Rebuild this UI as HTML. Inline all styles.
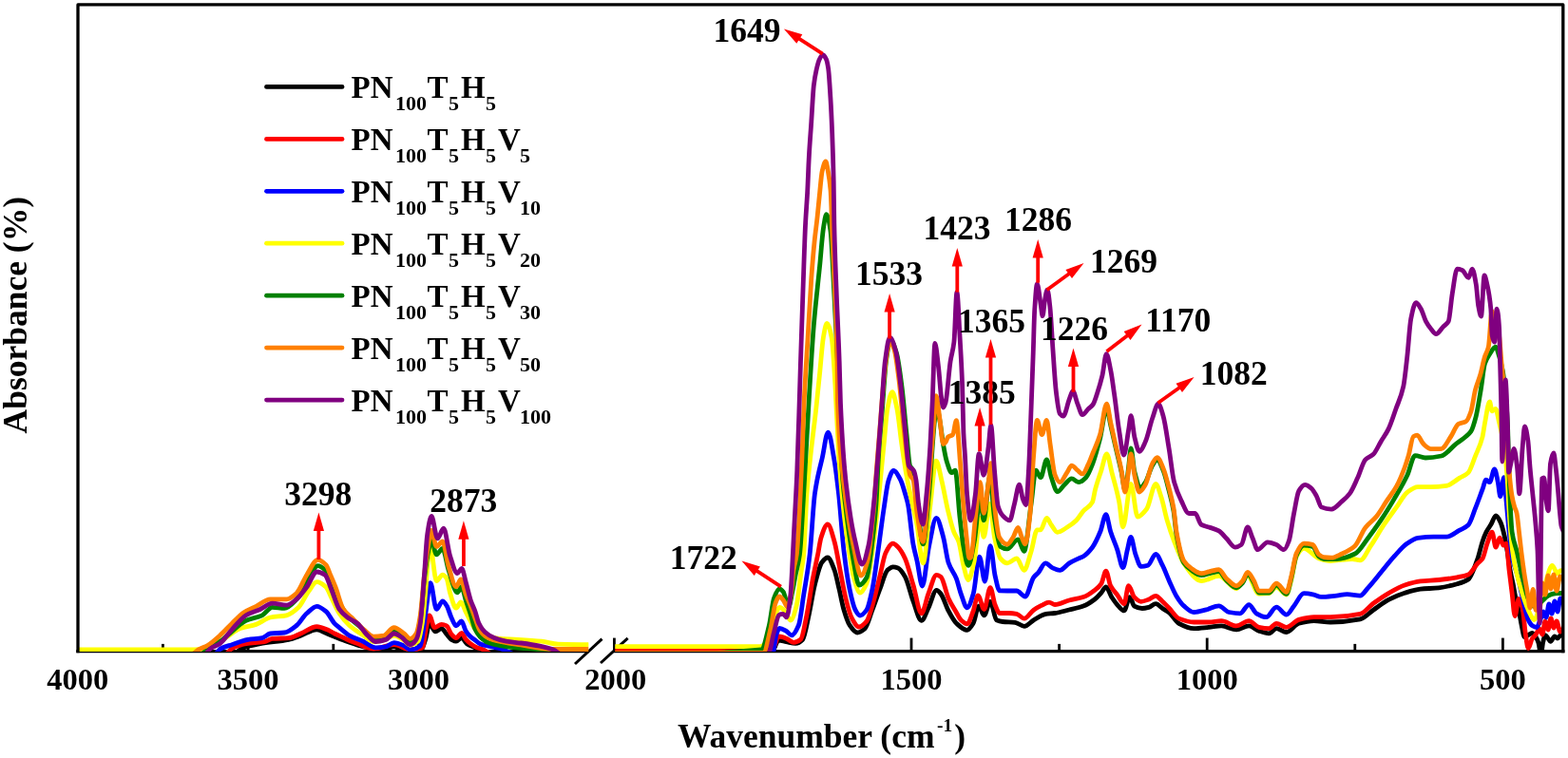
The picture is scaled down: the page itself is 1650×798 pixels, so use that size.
<!DOCTYPE html><html><head><meta charset="utf-8"><title>FTIR spectra</title><style>html,body{margin:0;padding:0;background:#fff;}svg{display:block;}text{font-family:"Liberation Serif","Times New Roman",serif;font-weight:bold;fill:#000;}</style></head><body>
<svg width="1650" height="798" viewBox="0 0 1650 798">
<rect width="1650" height="798" fill="#fff"/>
<defs><clipPath id="cl"><rect x="82" y="0" width="537.3" height="686"/></clipPath><clipPath id="cr"><rect x="647.3" y="0" width="997.5" height="686"/></clipPath></defs>
<g stroke="#000" stroke-width="3.3" fill="none" stroke-linecap="butt">
<path d="M80.35,685.6 L619.3,685.6 M645.8,685.6 L1646.45,685.6"/>
</g>
<g stroke="#000" stroke-width="2.8">
<line x1="171.4" y1="685.6" x2="171.4" y2="677.9"/>
<line x1="350.8" y1="685.6" x2="350.8" y2="677.9"/>
<line x1="530.0" y1="685.6" x2="530.0" y2="677.9"/>
<line x1="261.1" y1="685.6" x2="261.1" y2="671.6"/>
<line x1="440.4" y1="685.6" x2="440.4" y2="671.6"/>
<line x1="646.4" y1="685.6" x2="646.4" y2="671.6"/>
<line x1="959.0" y1="685.6" x2="959.0" y2="671.6"/>
<line x1="1270.2" y1="685.6" x2="1270.2" y2="671.6"/>
<line x1="1581.4" y1="685.6" x2="1581.4" y2="671.6"/>
<line x1="803.4" y1="685.6" x2="803.4" y2="677.9"/>
<line x1="1114.6" y1="685.6" x2="1114.6" y2="677.9"/>
<line x1="1425.8" y1="685.6" x2="1425.8" y2="677.9"/>
</g>
<g stroke="#000" stroke-width="3" stroke-linecap="butt">
<line x1="605" y1="699" x2="633.5" y2="672.6"/><line x1="632" y1="698" x2="660.6" y2="671.9"/>
</g>
<g clip-path="url(#cl)" fill="none" stroke-width="4.8" stroke-linejoin="round" stroke-linecap="round">
<path stroke="#000000" d="M83.0,689.5C132.7,689.5 182.3,689.5 232.0,689.5C236.0,689.5 240.0,689.5 244.0,689.5C247.7,689.5 251.3,683.9 255.0,682.5C261.3,680.1 267.5,678.9 273.8,677.7C283.7,675.8 293.7,675.5 303.6,673.4C307.9,672.5 312.1,670.7 316.4,669.2C322.1,667.2 327.7,662.8 333.4,662.8C337.0,662.8 340.5,665.6 344.1,667.0C346.7,668.1 349.4,669.2 352.0,670.2C356.5,672.0 361.1,673.9 365.6,675.5C371.3,677.5 376.9,679.6 382.6,680.8C389.7,682.3 396.8,684.0 403.9,684.0C407.5,684.0 411.0,680.8 414.6,680.8C420.3,680.8 425.9,689.5 431.6,689.5C435.7,689.5 439.9,687.1 444.0,683.0C445.3,681.7 446.7,676.4 448.0,672.0C449.3,667.8 450.5,656.3 451.8,656.3C453.9,656.3 456.1,664.9 458.2,664.9C460.3,664.9 462.5,661.7 464.6,661.7C466.4,661.7 468.2,665.7 470.0,667.7C471.7,669.6 473.3,672.4 475.0,673.3C476.7,674.2 478.3,675.2 480.0,675.2C481.9,675.2 483.8,671.5 485.7,671.5C487.6,671.5 489.4,676.4 491.3,677.7C494.6,680.1 498.0,680.7 501.3,682.7C504.2,684.5 507.2,689.5 510.1,689.5C546.4,689.5 582.7,689.5 619.0,689.5"/>
<path stroke="#ff0000" d="M83.0,689.5C129.3,689.5 175.7,689.5 222.0,689.5C226.5,689.5 230.9,689.5 235.4,689.5C238.6,689.5 241.8,683.5 245.0,682.0C249.6,679.9 254.3,678.5 258.9,677.7C265.3,676.6 271.6,676.8 278.0,675.6C280.9,675.1 283.7,672.6 286.6,672.4C292.3,671.9 297.9,672.1 303.6,671.7C307.9,671.4 312.1,668.7 316.4,667.0C322.1,664.8 327.7,659.6 333.4,659.6C337.0,659.6 340.5,661.4 344.1,662.8C346.7,663.8 349.4,665.7 352.0,667.0C355.1,668.5 358.2,669.9 361.3,671.3C366.3,673.5 371.2,675.8 376.2,677.6C381.9,679.7 387.6,683.0 393.3,683.0C400.4,683.0 407.5,678.7 414.6,678.7C420.3,678.7 425.9,684.0 431.6,684.0C435.9,684.0 440.1,683.5 444.4,681.9C445.8,681.4 447.2,666.8 448.6,660.6C449.7,655.9 450.7,647.8 451.8,647.8C453.6,647.8 455.4,660.6 457.2,660.6C459.7,660.6 462.1,657.4 464.6,657.4C466.4,657.4 468.2,658.0 470.0,658.9C471.7,659.7 473.3,665.9 475.0,667.7C476.7,669.5 478.3,671.5 480.0,671.5C481.9,671.5 483.8,666.4 485.7,666.4C487.1,666.4 488.6,671.0 490.0,672.7C491.7,674.7 493.4,676.4 495.1,677.7C497.2,679.3 499.2,680.7 501.3,681.5C503.4,682.3 505.5,682.6 507.6,683.4C511.7,684.9 515.9,689.5 520.0,689.5C553.0,689.5 586.0,689.5 619.0,689.5"/>
<path stroke="#0000ff" d="M83.0,689.5C126.0,689.5 169.0,689.5 212.0,689.5C216.0,689.5 220.0,689.5 224.0,689.5C227.0,689.5 230.0,684.0 233.0,682.5C236.7,680.7 240.3,679.9 244.0,678.7C249.7,676.8 255.3,674.3 261.0,673.4C266.0,672.6 270.9,672.7 275.9,671.7C278.7,671.1 281.6,667.4 284.4,667.0C289.4,666.4 294.3,666.6 299.3,666.0C303.6,665.5 307.8,661.9 312.1,658.5C315.7,655.7 319.2,648.8 322.8,645.7C326.3,642.6 329.9,638.3 333.4,638.3C336.6,638.3 339.8,641.0 343.0,643.6C346.0,646.0 349.0,653.3 352.0,656.4C353.7,658.1 355.3,659.2 357.0,660.6C360.6,663.5 364.1,667.1 367.7,669.1C372.7,671.9 377.6,673.2 382.6,675.5C386.9,677.5 391.1,681.9 395.4,681.9C398.9,681.9 402.5,681.4 406.0,680.8C408.9,680.3 411.7,676.6 414.6,676.6C418.1,676.6 421.7,678.3 425.2,679.8C427.3,680.7 429.5,684.0 431.6,684.0C435.2,684.0 438.7,682.7 442.3,679.8C444.1,678.4 445.8,658.8 447.6,647.8C449.4,636.8 451.1,613.7 452.9,613.7C455.0,613.7 457.2,641.4 459.3,641.4C461.4,641.4 463.6,632.9 465.7,632.9C467.1,632.9 468.6,635.4 470.0,637.6C471.7,640.1 473.3,646.8 475.0,650.2C476.7,653.6 478.3,658.9 480.0,658.9C481.9,658.9 483.8,653.9 485.7,653.9C487.1,653.9 488.6,661.6 490.0,663.9C491.7,666.7 493.4,668.6 495.1,670.2C496.8,671.8 498.4,672.8 500.1,674.0C501.8,675.2 503.4,677.0 505.1,677.7C508.0,679.0 511.0,679.5 513.9,680.2C518.1,681.2 522.2,681.6 526.4,682.7C532.7,684.3 538.9,689.5 545.2,689.5C569.8,689.5 594.4,689.5 619.0,689.5"/>
<path stroke="#ffff00" d="M83.0,684.0C123.7,684.0 164.3,684.0 205.0,684.0C208.0,684.0 211.0,683.8 214.0,683.5C216.9,683.2 219.7,682.1 222.6,681.0C227.6,679.1 232.6,674.5 237.6,671.3C242.6,668.1 247.5,663.5 252.5,661.7C258.2,659.6 263.8,659.3 269.5,657.4C274.5,655.7 279.4,651.0 284.4,650.0C290.1,648.8 295.8,649.1 301.5,647.8C305.8,646.8 310.0,643.4 314.3,639.3C317.8,635.9 321.4,627.0 324.9,622.3C327.7,618.6 330.6,612.7 333.4,612.7C336.6,612.7 339.8,615.1 343.0,618.0C344.8,619.7 346.7,625.0 348.5,628.6C351.3,634.2 354.2,641.4 357.0,645.7C360.6,651.1 364.1,655.3 367.7,658.5C372.7,663.0 377.6,665.9 382.6,669.1C386.2,671.4 389.7,675.5 393.3,675.5C396.9,675.5 400.4,674.8 404.0,674.0C407.5,673.2 411.1,669.0 414.6,669.0C418.1,669.0 421.5,671.9 425.0,674.0C427.2,675.3 429.4,679.0 431.6,679.0C434.4,679.0 437.2,677.6 440.0,675.0C441.5,673.6 443.0,664.4 444.5,655.0C445.7,647.7 446.8,633.0 448.0,620.0C448.9,609.6 449.9,590.3 450.8,585.0C451.5,581.0 452.2,577.0 452.9,577.0C455.0,577.0 457.2,611.6 459.3,611.6C461.4,611.6 463.6,605.2 465.7,605.2C467.1,605.2 468.6,606.9 470.0,609.0C471.3,610.9 472.5,621.1 473.8,625.1C475.9,631.6 477.9,640.1 480.0,640.1C481.7,640.1 483.3,633.9 485.0,633.9C486.7,633.9 488.3,640.6 490.0,643.9C491.7,647.3 493.4,650.9 495.1,653.9C496.7,656.8 498.4,660.5 500.0,662.0C503.3,665.1 506.7,666.7 510.0,668.0C514.6,669.9 519.3,671.6 523.9,672.1C531.0,672.8 538.1,672.8 545.2,673.3C553.5,673.8 561.7,674.3 570.0,675.2C575.8,675.8 581.5,678.0 587.3,678.2C597.9,678.5 608.4,678.7 619.0,678.7"/>
<path stroke="#008000" d="M83.0,689.5C121.3,689.5 159.7,689.5 198.0,689.5C202.0,689.5 206.0,689.5 210.0,689.5C213.3,689.5 216.7,683.6 220.0,681.5C223.7,679.1 227.5,678.0 231.2,675.6C235.5,672.9 239.7,668.4 244.0,664.9C249.0,660.9 253.9,655.5 258.9,653.2C264.6,650.6 270.2,650.5 275.9,647.8C279.5,646.1 283.0,639.3 286.6,639.3C290.8,639.3 295.1,640.4 299.3,640.4C303.6,640.4 307.8,635.2 312.1,630.8C315.7,627.1 319.2,619.4 322.8,613.8C326.7,607.7 330.6,595.6 334.5,595.6C337.0,595.6 339.5,597.6 342.0,599.9C344.0,601.7 346.0,607.5 348.0,612.0C350.3,617.3 352.7,625.2 355.0,630.0C358.3,636.9 361.7,642.9 365.0,647.0C370.0,653.1 375.0,656.6 380.0,661.0C384.3,664.8 388.7,672.0 393.0,672.0C396.7,672.0 400.3,671.6 404.0,671.0C407.5,670.4 411.1,663.5 414.6,663.5C418.1,663.5 421.5,667.1 425.0,669.5C427.2,671.0 429.4,675.0 431.6,675.0C433.7,675.0 435.9,672.9 438.0,670.0C439.4,668.0 440.9,660.5 442.3,652.0C443.7,643.7 445.1,621.5 446.5,610.0C447.9,598.2 449.4,586.9 450.8,580.0C451.9,574.9 452.9,568.0 454.0,568.0C455.8,568.0 457.5,583.9 459.3,583.9C461.4,583.9 463.6,577.5 465.7,577.5C467.8,577.5 469.9,593.7 472.0,600.0C475.1,609.3 478.2,623.8 481.3,623.8C482.8,623.8 484.2,617.6 485.7,617.6C487.1,617.6 488.6,627.0 490.0,631.4C491.7,636.6 493.4,641.1 495.1,646.4C496.8,651.6 498.4,659.3 500.1,662.7C501.8,666.1 503.4,668.5 505.1,670.2C508.0,673.1 511.0,675.4 513.9,676.5C518.1,678.1 522.2,678.9 526.4,679.6C532.7,680.7 538.9,681.5 545.2,682.1C553.5,682.9 561.7,683.3 570.0,684.0C586.3,685.5 602.7,687.3 619.0,689.5"/>
<path stroke="#ff8000" d="M83.0,689.5C118.0,689.5 153.0,689.5 188.0,689.5C192.0,689.5 196.0,689.5 200.0,689.5C203.3,689.5 206.5,685.2 209.8,683.5C212.7,682.0 215.5,681.2 218.4,679.5C222.7,677.0 226.9,673.0 231.2,669.2C235.5,665.4 239.7,660.5 244.0,656.4C248.2,652.3 252.5,647.4 256.7,644.7C261.0,641.9 265.2,640.4 269.5,638.3C274.5,635.8 279.4,630.8 284.4,630.8C290.1,630.8 295.8,630.8 301.5,630.8C305.0,630.8 308.6,627.6 312.1,624.4C315.7,621.2 319.2,610.7 322.8,605.2C326.7,599.2 330.6,589.3 334.5,589.3C337.3,589.3 340.2,591.7 343.0,594.6C344.7,596.3 346.3,602.1 348.0,606.0C349.7,609.9 351.3,613.7 353.0,618.0C355.8,625.1 358.5,637.2 361.3,641.4C364.9,646.8 368.4,648.5 372.0,652.1C375.5,655.6 379.1,659.8 382.6,662.7C386.2,665.6 389.7,670.2 393.3,670.2C396.8,670.2 400.4,669.7 403.9,669.1C407.5,668.4 411.0,660.6 414.6,660.6C418.1,660.6 421.7,664.5 425.2,667.0C427.3,668.5 429.5,672.3 431.6,672.3C433.7,672.3 435.9,670.1 438.0,667.0C439.4,664.9 440.9,656.7 442.3,647.8C443.7,639.1 445.1,617.2 446.5,605.2C447.9,592.9 449.4,581.4 450.8,573.3C451.9,567.2 452.9,558.3 454.0,558.3C455.8,558.3 457.5,575.4 459.3,575.4C461.4,575.4 463.6,570.0 465.7,570.0C467.8,570.0 469.9,589.1 472.0,596.0C474.7,604.8 477.3,617.6 480.0,617.6C481.7,617.6 483.3,610.0 485.0,610.0C486.7,610.0 488.3,620.6 490.0,625.1C491.7,629.7 493.4,633.2 495.1,637.6C496.8,641.9 498.4,647.0 500.1,651.4C501.8,655.8 503.4,661.5 505.1,663.9C507.2,667.0 509.3,668.9 511.4,670.2C514.3,672.0 517.2,673.2 520.1,674.0C529.4,676.6 538.7,677.6 548.0,679.0C559.3,680.7 570.7,683.5 582.0,683.5C594.3,683.5 606.7,683.5 619.0,683.5"/>
<path stroke="#800080" d="M83.0,689.5C123.0,689.5 163.0,689.5 203.0,689.5C206.7,689.5 210.3,689.5 214.0,689.5C216.7,689.5 219.3,684.3 222.0,682.5C225.1,680.5 228.1,679.9 231.2,677.7C235.5,674.7 239.7,667.4 244.0,662.8C249.0,657.4 253.9,650.8 258.9,647.8C263.9,644.8 268.8,643.8 273.8,641.5C278.1,639.5 282.3,635.1 286.6,635.1C291.6,635.1 296.5,637.2 301.5,637.2C305.0,637.2 308.6,633.6 312.1,630.8C315.7,627.9 319.2,622.8 322.8,618.0C326.3,613.3 329.9,602.0 333.4,602.0C336.3,602.0 339.1,603.3 342.0,605.2C344.2,606.6 346.3,614.9 348.5,620.1C351.3,626.9 354.2,637.3 357.0,641.4C359.9,645.5 362.7,647.8 365.6,650.0C369.1,652.7 372.7,653.5 376.2,656.3C379.8,659.1 383.3,665.8 386.9,669.1C389.7,671.7 392.6,675.5 395.4,675.5C398.9,675.5 402.5,674.5 406.0,673.4C408.9,672.5 411.7,667.0 414.6,667.0C417.4,667.0 420.3,669.5 423.1,671.3C425.9,673.1 428.8,678.7 431.6,678.7C433.7,678.7 435.9,676.5 438.0,673.4C439.4,671.3 440.9,664.9 442.3,656.3C443.7,647.9 445.1,623.0 446.5,605.2C447.6,591.6 448.6,569.9 449.7,562.6C451.1,552.8 452.6,543.5 454.0,543.5C456.1,543.5 458.3,566.9 460.4,566.9C462.5,566.9 464.7,556.2 466.8,556.2C469.0,556.2 471.3,578.1 473.5,585.0C476.1,593.0 478.7,603.5 481.3,603.5C482.8,603.5 484.3,598.5 485.8,598.5C487.4,598.5 488.9,608.5 490.5,614.0C492.0,619.4 493.6,626.7 495.1,631.4C496.8,636.5 498.4,639.2 500.1,644.0C501.3,647.5 502.6,653.4 503.8,656.0C505.9,660.4 508.0,663.3 510.1,665.2C513.4,668.2 516.7,670.2 520.0,671.5C524.2,673.2 528.5,674.5 532.7,675.2C538.0,676.1 543.2,676.3 548.5,677.0C555.0,677.9 561.4,678.8 567.9,680.1C572.7,681.1 577.6,682.2 582.4,684.0C585.6,685.2 588.8,689.5 592.0,689.5C601.0,689.5 610.0,689.5 619.0,689.5"/>
</g>
<g clip-path="url(#cr)" fill="none" stroke-width="4.8" stroke-linejoin="round" stroke-linecap="round">
<path stroke="#000000" d="M646.0,689.5C701.3,689.5 756.7,689.5 812.0,689.5C813.0,689.5 814.0,684.1 815.0,682.0C816.4,678.9 817.9,674.1 819.3,674.1C822.0,674.1 824.7,675.2 827.4,675.7C830.7,676.3 833.9,677.4 837.2,677.4C839.7,677.4 842.2,675.7 844.7,673.2C846.8,671.1 849.0,657.2 851.1,647.7C853.2,638.3 855.3,623.9 857.4,615.7C859.9,605.9 862.4,595.2 864.9,592.0C866.9,589.4 869.0,587.0 871.0,587.0C873.3,587.0 875.7,594.0 878.0,600.0C879.7,604.3 881.3,613.0 883.0,620.0C884.7,627.0 886.3,636.4 888.0,642.0C890.0,648.7 892.0,655.0 894.0,658.0C896.7,662.0 899.3,666.0 902.0,666.0C904.7,666.0 907.3,664.2 910.0,662.0C912.7,659.8 915.3,649.0 918.0,642.0C920.7,635.0 923.3,627.0 926.0,620.0C928.7,613.0 931.3,602.4 934.0,600.0C935.9,598.3 937.8,596.8 939.7,596.8C941.5,596.8 943.2,597.3 945.0,598.0C947.5,598.9 950.0,603.0 952.5,607.4C955.3,612.4 958.2,625.5 961.0,633.0C963.9,640.6 966.7,653.3 969.6,653.3C972.1,653.3 974.5,644.9 977.0,640.0C979.8,634.4 982.7,621.3 985.5,621.3C987.0,621.3 988.5,623.3 990.0,625.1C992.7,628.3 995.4,638.1 998.1,643.1C1000.8,648.2 1003.6,653.5 1006.3,656.1C1010.1,659.6 1013.9,663.4 1017.7,663.4C1019.9,663.4 1022.0,659.7 1024.2,656.1C1026.1,652.9 1028.0,638.2 1029.9,638.2C1031.8,638.2 1033.7,647.9 1035.6,647.9C1037.8,647.9 1039.9,633.3 1042.1,633.3C1044.3,633.3 1046.4,651.8 1048.6,652.8C1050.8,653.8 1052.9,654.3 1055.1,654.5C1059.5,655.0 1063.8,654.8 1068.2,655.3C1071.4,655.7 1074.7,659.3 1077.9,659.3C1081.2,659.3 1084.4,654.7 1087.7,652.8C1092.0,650.3 1096.4,646.9 1100.7,646.3C1103.8,645.9 1106.9,645.9 1110.0,645.5C1115.0,644.9 1120.0,643.2 1125.0,642.0C1130.0,640.8 1135.0,639.9 1140.0,638.1C1144.0,636.6 1147.9,634.0 1151.9,631.0C1154.3,629.2 1156.6,626.4 1159.0,623.8C1160.6,622.0 1162.2,617.9 1163.8,617.9C1165.8,617.9 1167.8,625.5 1169.8,628.6C1172.2,632.2 1174.5,635.7 1176.9,638.1C1178.9,640.1 1180.9,642.9 1182.9,642.9C1184.9,642.9 1186.8,628.6 1188.8,628.6C1190.4,628.6 1192.0,637.2 1193.6,638.1C1196.4,639.6 1199.1,640.5 1201.9,640.5C1204.3,640.5 1206.6,639.9 1209.0,639.3C1211.4,638.7 1213.8,635.7 1216.2,635.7C1218.6,635.7 1220.9,638.9 1223.3,640.5C1225.7,642.1 1228.1,643.3 1230.5,645.2C1233.8,647.9 1237.2,654.5 1240.5,656.3C1245.8,659.1 1251.0,661.6 1256.3,661.6C1261.6,661.6 1266.8,660.8 1272.1,660.3C1276.5,659.9 1280.9,658.9 1285.3,658.9C1290.6,658.9 1295.8,662.9 1301.1,662.9C1305.5,662.9 1309.8,658.9 1314.2,658.9C1317.7,658.9 1321.2,663.0 1324.7,664.2C1328.2,665.4 1331.8,666.8 1335.3,666.8C1337.9,666.8 1340.6,661.6 1343.2,661.6C1346.7,661.6 1350.2,665.5 1353.7,665.5C1358.1,665.5 1362.4,657.5 1366.8,656.3C1372.1,654.9 1377.3,653.7 1382.6,653.7C1388.4,653.7 1394.2,655.0 1400.0,655.0C1410.4,655.0 1420.9,653.9 1431.3,651.9C1435.9,651.0 1440.5,645.4 1445.1,642.2C1450.6,638.4 1456.1,634.0 1461.6,631.2C1467.1,628.4 1472.7,626.0 1478.2,624.3C1483.7,622.6 1489.2,620.8 1494.7,620.2C1501.1,619.5 1507.6,619.5 1514.0,618.8C1520.4,618.1 1526.9,616.5 1533.3,614.7C1537.2,613.6 1541.1,612.7 1545.0,610.0C1548.3,607.7 1551.7,597.3 1555.0,588.0C1556.7,583.3 1558.3,575.1 1560.0,570.2C1561.3,566.3 1562.7,562.7 1564.0,560.1C1565.7,556.8 1567.3,554.9 1569.0,552.1C1570.7,549.2 1572.4,543.0 1574.1,543.0C1575.8,543.0 1577.4,546.7 1579.1,550.1C1580.4,552.8 1581.8,558.4 1583.1,564.1C1584.1,568.4 1585.1,574.2 1586.1,580.2C1587.1,586.2 1588.1,594.8 1589.1,600.3C1590.1,605.8 1591.1,609.3 1592.1,614.3C1593.1,619.3 1594.1,625.9 1595.1,630.4C1596.1,635.1 1597.2,637.7 1598.2,642.4C1599.2,646.9 1600.2,653.9 1601.2,658.5C1602.2,663.1 1603.2,670.6 1604.2,670.6C1605.5,670.6 1606.9,669.3 1608.2,668.6C1609.5,667.9 1610.9,666.5 1612.2,666.5C1613.5,666.5 1614.9,668.7 1616.2,670.6C1617.1,672.0 1618.1,674.1 1619.0,677.0C1619.8,679.6 1620.7,689.5 1621.5,689.5C1622.2,689.5 1623.0,679.1 1623.7,676.0C1624.5,672.8 1625.2,668.6 1626.0,668.6C1627.0,668.6 1628.0,670.8 1629.0,672.0C1629.9,673.0 1630.7,675.3 1631.6,675.3C1633.1,675.3 1634.5,670.0 1636.0,670.0C1637.0,670.0 1638.0,672.0 1639.0,672.0C1640.0,672.0 1641.0,669.4 1642.0,669.0C1643.3,668.5 1644.7,668.0 1646.0,668.0"/>
<path stroke="#ff0000" d="M646.0,684.0C701.3,684.0 756.7,684.0 812.0,684.0C813.0,684.0 814.0,681.7 815.0,680.0C816.4,677.7 817.7,670.0 819.1,670.0C820.8,670.0 822.5,670.4 824.2,670.8C825.8,671.2 827.4,672.2 829.0,673.0C831.0,674.0 833.1,676.4 835.1,676.4C837.6,676.4 840.1,675.2 842.6,673.2C844.7,671.5 846.8,657.8 848.9,647.7C851.0,637.4 853.2,620.8 855.3,609.4C857.1,600.0 858.8,592.7 860.6,583.8C861.7,578.1 862.9,569.5 864.0,566.0C866.3,558.9 868.7,552.0 871.0,552.0C873.3,552.0 875.7,562.0 878.0,570.0C880.0,576.8 882.0,590.0 884.0,600.0C886.0,610.0 888.0,622.0 890.0,630.0C892.0,638.0 894.0,646.3 896.0,650.0C898.7,655.0 901.3,660.0 904.0,660.0C906.7,660.0 909.3,657.2 912.0,654.0C914.7,650.8 917.3,639.2 920.0,630.0C922.0,623.1 924.0,614.0 926.0,606.0C928.0,598.0 930.0,585.9 932.0,582.0C934.6,576.9 937.1,572.2 939.7,572.2C941.5,572.2 943.2,574.3 945.0,576.0C947.5,578.4 950.0,582.8 952.5,588.2C955.3,594.3 958.2,606.5 961.0,616.0C963.9,625.6 966.7,645.8 969.6,645.8C972.1,645.8 974.5,631.3 977.0,625.0C979.8,617.8 982.7,605.3 985.5,605.3C987.0,605.3 988.5,606.2 990.0,607.2C992.7,609.1 995.4,624.1 998.1,630.0C1000.8,636.0 1003.6,640.0 1006.3,644.7C1007.9,647.5 1009.6,651.3 1011.2,652.8C1013.4,654.8 1015.5,656.9 1017.7,656.9C1019.9,656.9 1022.0,648.8 1024.2,643.1C1025.8,638.8 1027.5,626.8 1029.1,626.8C1031.3,626.8 1033.4,641.4 1035.6,641.4C1037.8,641.4 1039.9,618.6 1042.1,618.6C1043.7,618.6 1045.4,632.5 1047.0,636.5C1048.6,640.5 1050.3,645.5 1051.9,645.5C1055.2,645.5 1058.4,645.5 1061.7,645.5C1064.4,645.5 1067.1,645.8 1069.8,646.3C1072.5,646.8 1075.2,651.2 1077.9,651.2C1081.2,651.2 1084.4,644.5 1087.7,642.2C1090.4,640.3 1093.2,638.7 1095.9,637.4C1098.6,636.1 1101.3,634.1 1104.0,634.1C1106.0,634.1 1108.0,636.5 1110.0,636.5C1115.0,636.5 1120.0,633.3 1125.0,632.0C1130.0,630.7 1135.0,630.3 1140.0,628.6C1144.0,627.3 1147.9,624.5 1151.9,621.4C1154.3,619.6 1156.6,617.9 1159.0,614.3C1160.6,611.9 1162.2,601.2 1163.8,601.2C1165.4,601.2 1167.0,613.6 1168.6,616.7C1171.0,621.3 1173.3,623.1 1175.7,626.2C1178.1,629.4 1180.5,635.7 1182.9,635.7C1184.5,635.7 1186.0,616.7 1187.6,616.7C1189.6,616.7 1191.6,626.6 1193.6,628.6C1196.0,631.0 1198.3,633.3 1200.7,633.3C1203.5,633.3 1206.2,632.0 1209.0,631.0C1211.4,630.1 1213.8,627.4 1216.2,627.4C1218.6,627.4 1220.9,631.2 1223.3,633.3C1225.7,635.5 1228.1,638.0 1230.5,640.5C1233.8,643.9 1237.2,649.7 1240.5,651.1C1245.8,653.3 1251.0,655.0 1256.3,655.0C1261.6,655.0 1266.8,655.0 1272.1,655.0C1276.5,655.0 1280.9,653.7 1285.3,653.7C1290.6,653.7 1295.8,658.9 1301.1,658.9C1305.5,658.9 1309.8,653.7 1314.2,653.7C1317.7,653.7 1321.2,659.6 1324.7,660.3C1328.2,661.0 1331.8,661.6 1335.3,661.6C1337.9,661.6 1340.6,656.3 1343.2,656.3C1346.7,656.3 1350.2,660.3 1353.7,660.3C1358.1,660.3 1362.4,653.6 1366.8,652.4C1372.1,651.0 1377.3,649.7 1382.6,649.7C1388.4,649.7 1394.2,649.7 1400.0,649.7C1410.4,649.7 1420.9,648.6 1431.3,646.4C1435.9,645.4 1440.5,638.7 1445.1,635.3C1450.6,631.3 1456.1,627.4 1461.6,624.3C1467.1,621.1 1472.7,617.8 1478.2,616.0C1483.7,614.2 1489.2,612.5 1494.7,611.9C1501.1,611.2 1507.6,611.1 1514.0,610.5C1520.4,609.9 1526.9,609.0 1533.3,607.8C1537.2,607.1 1541.1,606.6 1545.0,605.0C1548.3,603.6 1551.7,596.5 1555.0,593.0C1556.7,591.2 1558.3,590.7 1560.0,588.2C1561.7,585.7 1563.3,576.8 1565.0,572.2C1566.7,567.6 1568.3,560.1 1570.0,560.1C1571.4,560.1 1572.7,576.2 1574.1,576.2C1575.4,576.2 1576.8,566.1 1578.1,566.1C1579.4,566.1 1580.8,574.2 1582.1,574.2C1583.1,574.2 1584.1,572.2 1585.1,572.2C1586.1,572.2 1587.1,591.7 1588.1,600.3C1589.1,608.9 1590.1,616.4 1591.1,624.4C1592.1,632.4 1593.1,648.5 1594.1,648.5C1595.5,648.5 1596.8,630.4 1598.2,630.4C1599.5,630.4 1600.9,635.1 1602.2,640.4C1603.2,644.4 1604.2,659.9 1605.2,666.5C1606.2,673.1 1607.2,682.6 1608.2,682.6C1609.5,682.6 1610.9,674.7 1612.2,672.6C1613.5,670.5 1614.9,669.8 1616.2,668.0C1617.5,666.3 1618.7,662.0 1620.0,662.0C1621.0,662.0 1622.0,668.0 1623.0,668.0C1624.0,668.0 1625.0,654.0 1626.0,654.0C1627.0,654.0 1628.0,663.0 1629.0,663.0C1630.0,663.0 1631.0,651.0 1632.0,651.0C1633.0,651.0 1634.0,661.0 1635.0,661.0C1636.0,661.0 1637.0,654.0 1638.0,654.0C1639.2,654.0 1640.5,665.0 1641.7,665.0C1643.1,665.0 1644.6,663.9 1646.0,658.0"/>
<path stroke="#0000ff" d="M646.0,689.5C701.6,689.5 757.1,689.5 812.7,689.5C814.1,689.5 815.6,672.1 817.0,668.0C818.1,665.0 819.1,661.5 820.2,661.5C822.6,661.5 825.0,663.0 827.4,664.3C829.3,665.3 831.1,668.9 833.0,668.9C835.5,668.9 837.9,664.2 840.4,658.3C842.2,654.1 843.9,637.6 845.7,626.4C847.8,612.9 850.0,602.3 852.1,583.8C853.9,568.5 855.6,533.1 857.4,520.0C858.6,511.1 859.8,505.8 861.0,500.0C862.4,493.4 863.7,488.6 865.1,482.7C867.2,473.7 869.3,455.1 871.4,455.1C873.5,455.1 875.5,471.0 877.6,482.7C879.3,492.1 880.9,505.4 882.6,520.3C884.4,536.4 886.2,565.0 888.0,580.0C890.0,596.7 892.0,610.5 894.0,620.0C896.0,629.5 898.0,638.4 900.0,642.0C901.7,645.0 903.3,648.0 905.0,648.0C907.3,648.0 909.7,645.3 912.0,642.0C914.0,639.2 916.0,629.5 918.0,620.0C920.0,610.5 922.0,594.0 924.0,580.0C926.0,566.0 928.0,549.2 930.0,536.0C931.7,524.8 933.4,510.4 935.1,505.4C936.8,500.4 938.5,495.4 940.2,495.4C942.7,495.4 945.2,500.7 947.7,505.4C949.4,508.6 951.0,514.9 952.7,520.5C953.6,523.7 954.6,526.5 955.5,531.0C957.3,539.9 959.2,563.4 961.0,573.3C962.3,580.5 963.7,584.4 965.0,590.4C966.9,598.8 968.7,617.0 970.6,617.0C972.9,617.0 975.2,586.2 977.5,575.4C980.1,563.2 982.7,545.5 985.3,545.5C987.7,545.5 990.2,556.7 992.6,565.4C994.4,571.9 996.3,587.3 998.1,592.6C1000.8,600.6 1003.6,602.0 1006.3,608.9C1007.9,613.0 1009.6,620.7 1011.2,625.1C1013.4,631.0 1015.5,639.8 1017.7,639.8C1019.9,639.8 1022.0,632.2 1024.2,625.1C1026.4,618.0 1028.5,586.1 1030.7,586.1C1032.6,586.1 1034.5,612.1 1036.4,612.1C1038.3,612.1 1040.2,574.7 1042.1,574.7C1043.7,574.7 1045.4,598.5 1047.0,605.6C1048.6,612.7 1050.3,621.9 1051.9,621.9C1054.6,622.0 1057.3,622.0 1060.0,622.0C1063.3,622.0 1066.5,622.0 1069.8,622.0C1072.8,622.0 1075.8,628.0 1078.8,628.0C1081.7,628.0 1084.7,612.0 1087.6,608.0C1089.3,605.7 1090.9,604.8 1092.6,602.9C1095.1,600.0 1097.6,592.9 1100.1,592.9C1102.6,592.9 1105.1,596.8 1107.6,597.9C1110.1,599.0 1112.7,600.4 1115.2,600.4C1118.5,600.4 1121.9,594.9 1125.2,592.9C1128.5,590.9 1131.9,589.5 1135.2,587.9C1136.8,587.1 1138.4,586.7 1140.0,585.7C1143.2,583.8 1146.3,580.4 1149.5,576.2C1152.3,572.4 1155.1,566.3 1157.9,559.5C1159.9,554.7 1161.8,541.7 1163.8,541.7C1165.4,541.7 1167.0,554.5 1168.6,559.5C1171.0,567.0 1173.3,571.7 1175.7,578.6C1177.7,584.4 1179.7,597.6 1181.7,597.6C1183.3,597.6 1184.8,584.6 1186.4,578.6C1187.6,574.0 1188.8,565.5 1190.0,565.5C1191.6,565.5 1193.2,578.8 1194.8,583.3C1196.8,588.8 1198.7,596.4 1200.7,596.4C1203.1,596.4 1205.5,595.9 1207.9,595.2C1210.7,594.4 1213.4,583.3 1216.2,583.3C1218.6,583.3 1220.9,590.6 1223.3,595.2C1225.7,599.9 1228.1,606.6 1230.5,611.9C1233.0,617.3 1235.4,623.4 1237.9,627.4C1240.5,631.7 1243.2,635.6 1245.8,637.9C1249.3,640.9 1252.8,644.5 1256.3,644.5C1260.7,644.5 1265.1,642.9 1269.5,641.8C1273.9,640.7 1278.2,637.9 1282.6,637.9C1286.1,637.9 1289.7,643.8 1293.2,644.5C1297.1,645.2 1301.1,645.8 1305.0,645.8C1308.1,645.8 1311.1,636.6 1314.2,636.6C1316.8,636.6 1319.5,644.3 1322.1,645.8C1325.6,647.8 1329.1,649.7 1332.6,649.7C1336.1,649.7 1339.7,639.2 1343.2,639.2C1346.7,639.2 1350.2,647.1 1353.7,647.1C1356.3,647.1 1359.0,641.1 1361.6,637.9C1365.1,633.7 1368.6,624.7 1372.1,624.7C1375.6,624.7 1379.1,625.4 1382.6,626.1C1385.1,626.6 1387.5,628.4 1390.0,628.4C1395.5,628.4 1401.0,627.6 1406.5,627.1C1410.2,626.7 1413.9,625.7 1417.6,625.7C1422.2,625.7 1426.7,627.1 1431.3,627.1C1434.1,627.1 1436.8,621.8 1439.6,618.8C1444.2,613.8 1448.8,607.8 1453.4,602.3C1458.0,596.8 1462.6,590.7 1467.2,585.7C1471.8,580.7 1476.3,575.0 1480.9,572.0C1484.6,569.5 1488.3,566.9 1492.0,566.4C1497.5,565.6 1503.0,565.1 1508.5,565.1C1513.1,565.1 1517.7,565.1 1522.3,565.1C1526.9,565.1 1531.4,560.7 1536.0,558.2C1539.0,556.5 1542.0,555.7 1545.0,552.8C1547.5,550.4 1550.0,541.4 1552.5,535.2C1555.0,529.0 1557.5,521.8 1560.0,515.2C1561.3,511.8 1562.5,505.2 1563.8,505.2C1565.1,505.2 1566.3,507.7 1567.6,507.7C1569.3,507.7 1570.9,493.9 1572.6,493.9C1573.8,493.9 1575.1,501.9 1576.3,507.7C1577.1,511.6 1578.0,522.7 1578.8,522.7C1580.1,522.7 1581.3,502.7 1582.6,502.7C1583.4,502.7 1584.3,519.1 1585.1,527.7C1586.1,538.1 1587.1,551.2 1588.1,560.1C1589.4,572.0 1590.8,584.1 1592.1,590.2C1593.8,597.8 1595.4,599.9 1597.1,606.3C1598.1,610.2 1599.2,615.7 1600.2,620.4C1601.5,626.4 1602.9,633.1 1604.2,638.4C1605.5,643.7 1606.9,649.7 1608.2,652.5C1609.5,655.3 1610.9,657.6 1612.2,658.5C1613.9,659.6 1615.5,660.5 1617.2,660.5C1618.5,660.5 1619.7,655.1 1621.0,652.0C1622.0,649.6 1623.0,644.0 1624.0,644.0C1625.0,644.0 1626.0,650.0 1627.0,650.0C1628.0,650.0 1629.0,636.0 1630.0,636.0C1631.0,636.0 1632.0,646.0 1633.0,646.0C1634.0,646.0 1635.0,633.0 1636.0,633.0C1637.0,633.0 1638.0,644.0 1639.0,644.0C1640.0,644.0 1641.0,630.0 1642.0,630.0C1643.3,630.0 1644.7,630.3 1646.0,638.0"/>
<path stroke="#ffff00" d="M646.0,680.7C697.3,680.7 748.7,680.7 800.0,680.7C801.7,680.7 803.3,679.4 805.0,678.0C807.6,675.9 810.1,668.2 812.7,661.0C814.3,656.4 816.0,646.0 817.6,643.1C818.6,641.4 819.5,639.5 820.5,639.5C822.3,639.5 824.0,641.4 825.8,643.1C827.8,645.0 829.9,653.0 831.9,653.0C834.0,653.0 836.2,645.2 838.3,637.0C839.7,631.5 841.2,615.3 842.6,605.1C843.6,597.7 844.7,594.2 845.7,583.8C846.8,572.7 847.9,534.9 849.0,520.0C850.2,503.7 851.4,494.0 852.6,482.7C854.7,463.2 856.7,448.9 858.8,430.0C860.1,418.4 861.3,405.3 862.6,392.9C863.9,380.5 865.1,362.6 866.4,355.3C867.6,348.2 868.9,340.3 870.1,340.3C871.8,340.3 873.4,346.9 875.1,355.3C876.4,361.7 877.6,384.3 878.9,405.4C879.3,412.1 879.7,422.4 880.1,430.0C881.4,454.0 882.6,478.9 883.9,495.2C886.0,522.2 888.1,541.4 890.2,557.8C890.8,562.5 891.4,566.1 892.0,570.0C894.0,582.9 896.0,598.7 898.0,606.0C900.3,614.5 902.7,624.0 905.0,624.0C907.3,624.0 909.7,619.4 912.0,614.0C914.0,609.4 916.0,593.5 918.0,580.0C920.0,566.5 922.0,548.7 924.0,530.0C924.8,522.5 925.6,513.6 926.4,505.4C927.6,492.8 928.9,480.2 930.1,467.8C931.4,455.1 932.6,437.0 933.9,430.3C935.6,421.5 937.2,412.7 938.9,412.7C940.6,412.7 942.2,422.3 943.9,430.3C945.6,438.3 947.2,456.2 948.9,467.8C950.6,479.4 952.2,491.1 953.9,500.4C955.6,509.7 957.2,517.1 958.9,525.0C960.9,534.6 963.0,542.0 965.0,552.8C967.1,563.9 969.2,592.9 971.3,592.9C973.8,592.9 976.3,552.2 978.8,532.8C980.9,516.5 983.0,485.2 985.1,485.2C987.2,485.2 989.2,499.2 991.3,507.7C993.4,516.4 995.5,529.2 997.6,537.8C999.7,546.4 1001.8,555.1 1003.9,560.4C1005.6,564.6 1007.2,565.6 1008.9,570.4C1010.6,575.2 1012.2,589.1 1013.9,595.4C1015.6,601.7 1017.2,610.5 1018.9,610.5C1021.0,610.5 1023.1,599.7 1025.2,590.4C1027.3,581.2 1029.3,545.3 1031.4,545.3C1032.7,545.3 1033.9,565.4 1035.2,565.4C1037.3,565.4 1039.4,530.3 1041.5,530.3C1043.2,530.3 1044.8,557.3 1046.5,565.4C1048.6,575.4 1050.6,585.5 1052.7,587.9C1055.1,590.8 1057.6,592.9 1060.0,592.9C1063.3,592.9 1066.7,587.9 1070.0,587.9C1072.5,587.9 1075.1,600.4 1077.6,600.4C1080.1,600.4 1082.6,588.1 1085.1,580.4C1087.2,573.9 1089.3,557.8 1091.4,557.8C1092.6,557.8 1093.9,557.8 1095.1,557.8C1097.2,557.8 1099.3,545.3 1101.4,545.3C1103.1,545.3 1104.7,550.6 1106.4,552.8C1108.5,555.6 1110.6,560.3 1112.7,560.3C1116.0,560.3 1119.4,557.3 1122.7,555.3C1126.0,553.3 1129.4,551.1 1132.7,547.8C1135.1,545.4 1137.6,540.8 1140.0,538.0C1143.2,534.4 1146.3,534.3 1149.5,528.6C1150.5,526.8 1151.5,519.2 1152.5,515.4C1154.6,507.5 1156.7,501.9 1158.8,495.4C1160.7,489.4 1162.7,477.8 1164.6,477.8C1166.4,477.8 1168.3,490.9 1170.1,497.9C1172.6,507.4 1175.1,515.3 1177.6,528.0C1179.0,535.0 1180.3,554.8 1181.7,554.8C1184.5,554.8 1187.2,509.5 1190.0,509.5C1192.4,509.5 1194.7,544.0 1197.1,544.0C1200.3,544.0 1203.5,539.9 1206.7,535.7C1209.9,531.5 1213.0,509.5 1216.2,509.5C1218.2,509.5 1220.1,517.9 1222.1,523.8C1224.1,529.8 1226.1,540.7 1228.1,547.6C1230.5,555.7 1232.8,562.6 1235.2,569.0C1236.8,573.3 1238.4,577.3 1240.0,581.0C1241.9,585.4 1243.9,590.4 1245.8,593.2C1251.9,602.1 1258.1,611.6 1264.2,611.6C1270.3,611.6 1276.5,606.3 1282.6,606.3C1288.8,606.3 1294.9,619.5 1301.1,619.5C1305.0,619.5 1309.0,606.0 1312.9,606.0C1316.8,606.0 1320.8,625.0 1324.7,625.0C1328.2,625.0 1331.8,624.9 1335.3,624.7C1337.9,624.5 1340.6,618.0 1343.2,618.0C1346.7,618.0 1350.2,626.0 1353.7,626.0C1355.4,626.0 1357.2,616.3 1358.9,610.0C1360.7,603.5 1362.4,589.2 1364.2,586.0C1366.8,581.2 1369.5,577.4 1372.1,577.4C1377.4,577.4 1382.6,586.2 1387.9,587.9C1391.9,589.2 1396.0,590.5 1400.0,590.5C1402.2,590.5 1404.3,590.1 1406.5,589.9C1412.0,589.4 1417.6,588.5 1423.1,588.5C1425.8,588.5 1428.6,589.9 1431.3,589.9C1435.0,589.9 1438.7,580.2 1442.4,574.7C1447.0,568.0 1451.5,559.5 1456.1,552.7C1460.7,545.8 1465.3,539.8 1469.9,533.4C1473.6,528.3 1477.2,520.9 1480.9,518.2C1484.6,515.5 1488.3,512.7 1492.0,512.7C1496.6,512.7 1501.1,512.7 1505.7,512.7C1511.2,512.7 1516.8,512.1 1522.3,511.3C1526.9,510.6 1531.4,505.9 1536.0,503.1C1539.0,501.3 1542.0,500.6 1545.0,497.6C1547.5,495.1 1550.0,486.3 1552.5,480.1C1555.0,473.9 1557.5,469.8 1560.0,460.0C1560.8,456.7 1561.7,449.7 1562.5,445.4C1564.2,436.7 1565.9,422.9 1567.6,422.9C1568.4,422.9 1569.3,432.9 1570.1,432.9C1571.3,432.9 1572.6,430.4 1573.8,430.4C1575.1,430.4 1576.3,439.8 1577.6,445.0C1578.7,449.7 1579.9,454.0 1581.0,460.0C1582.0,465.3 1583.0,471.5 1584.0,480.0C1584.7,486.2 1585.5,494.9 1586.2,505.0C1586.9,514.2 1587.5,529.9 1588.2,540.0C1588.9,550.6 1589.6,561.0 1590.3,568.0C1591.2,577.4 1592.2,584.6 1593.1,590.2C1593.8,594.2 1594.4,597.1 1595.1,600.0C1597.4,609.9 1599.7,618.0 1602.0,625.0C1604.7,633.4 1607.5,641.4 1610.2,646.5C1611.5,649.0 1612.9,652.5 1614.2,652.5C1616.1,652.5 1618.1,645.5 1620.0,640.0C1622.0,634.3 1624.0,621.5 1626.0,615.0C1628.5,607.0 1630.9,595.5 1633.4,595.5C1635.3,595.5 1637.1,603.8 1639.0,603.8C1639.9,603.8 1640.8,601.4 1641.7,601.0C1643.1,600.4 1644.6,600.0 1646.0,600.0"/>
<path stroke="#008000" d="M646.0,689.5C697.7,689.5 749.3,689.1 801.0,684.0C803.8,683.7 806.7,669.4 809.5,657.8C811.1,651.1 812.8,634.4 814.4,630.0C816.3,624.8 818.3,620.0 820.2,620.0C821.5,620.0 822.9,621.5 824.2,623.0C826.1,625.2 827.9,639.1 829.8,639.1C831.2,639.1 832.6,628.5 834.0,622.0C835.1,617.1 836.1,610.6 837.2,605.1C838.6,597.8 840.1,594.5 841.5,583.8C842.9,573.3 844.3,542.9 845.7,520.0C847.6,489.5 849.4,450.9 851.3,420.0C853.0,392.4 854.6,363.1 856.3,342.8C858.4,317.2 860.5,301.4 862.6,280.1C863.9,266.9 865.2,248.2 866.5,240.0C867.5,233.5 868.6,225.6 869.6,225.6C871.0,225.6 872.5,233.2 873.9,242.5C875.1,250.5 876.4,282.7 877.6,305.2C878.9,328.3 880.1,352.9 881.4,380.4C882.1,395.6 882.8,413.3 883.5,430.0C884.5,453.1 885.4,486.4 886.4,500.0C887.6,516.9 888.8,524.8 890.0,535.0C891.3,546.3 892.7,555.9 894.0,565.0C895.3,574.1 896.7,583.1 898.0,590.0C900.0,600.4 902.0,616.0 904.0,616.0C906.7,616.0 909.3,612.8 912.0,608.0C914.0,604.4 916.0,585.7 918.0,570.0C919.3,559.5 920.7,548.2 922.0,530.0C922.8,518.6 923.7,493.1 924.5,480.0C925.8,459.1 927.2,446.7 928.5,430.0C929.8,413.3 931.2,389.5 932.5,380.0C934.0,369.4 935.5,358.0 937.0,358.0C939.2,358.0 941.3,364.9 943.5,372.0C945.3,378.0 947.2,392.7 949.0,407.0C950.7,420.0 952.3,440.9 954.0,457.0C955.2,468.3 956.3,486.9 957.5,490.0C958.3,492.2 959.2,492.0 960.0,494.0C961.7,498.0 963.3,516.2 965.0,527.8C967.1,542.4 969.2,572.9 971.3,572.9C973.4,572.9 975.4,541.3 977.5,520.3C979.6,498.9 981.7,456.1 983.8,440.0C984.5,434.9 985.1,428.0 985.8,428.0C986.8,428.0 987.8,436.5 988.8,442.0C990.1,449.0 991.3,460.8 992.6,468.0C993.8,475.0 995.1,482.1 996.3,486.0C998.0,491.4 999.7,497.7 1001.4,497.7C1002.6,497.7 1003.9,495.2 1005.1,495.2C1006.8,495.2 1008.4,530.6 1010.1,545.3C1011.4,556.4 1012.6,568.6 1013.9,575.4C1015.6,584.4 1017.2,595.4 1018.9,595.4C1021.0,595.4 1023.1,581.2 1025.2,570.4C1027.3,559.8 1029.3,525.3 1031.4,525.3C1032.7,525.3 1033.9,547.8 1035.2,547.8C1037.3,547.8 1039.4,502.7 1041.5,502.7C1043.2,502.7 1044.8,534.9 1046.5,545.3C1048.6,558.2 1050.6,574.0 1052.7,575.4C1055.1,577.0 1057.6,577.9 1060.0,577.9C1063.8,577.9 1067.5,567.8 1071.3,567.8C1073.4,567.8 1075.5,580.4 1077.6,580.4C1080.1,580.4 1082.6,547.4 1085.1,530.3C1086.8,518.9 1088.4,495.2 1090.1,495.2C1091.8,495.2 1093.4,502.7 1095.1,502.7C1097.2,502.7 1099.3,483.9 1101.4,483.9C1103.1,483.9 1104.7,497.8 1106.4,502.7C1108.5,508.9 1110.6,517.7 1112.7,517.7C1115.2,517.7 1117.7,512.5 1120.2,510.2C1122.7,507.9 1125.2,503.9 1127.7,503.9C1130.2,503.9 1132.7,507.7 1135.2,507.7C1137.7,507.7 1140.2,505.2 1142.7,502.7C1145.1,500.2 1147.6,493.9 1150.0,487.6C1152.5,481.2 1155.0,471.7 1157.5,462.0C1159.9,452.8 1162.2,430.0 1164.6,430.0C1166.0,430.0 1167.4,441.9 1168.8,448.0C1170.5,455.2 1172.1,462.8 1173.8,470.0C1175.9,479.1 1178.0,487.2 1180.1,497.0C1181.4,502.9 1182.6,516.0 1183.9,516.0C1185.1,516.0 1186.4,500.9 1187.6,492.0C1188.4,486.0 1189.3,472.0 1190.1,472.0C1191.4,472.0 1192.6,492.2 1193.9,497.0C1196.0,505.0 1198.1,512.9 1200.2,512.9C1201.9,512.9 1203.5,510.3 1205.2,508.0C1207.7,504.6 1210.2,493.9 1212.7,490.0C1214.4,487.4 1216.0,484.0 1217.7,484.0C1219.8,484.0 1221.9,490.1 1224.0,495.0C1226.1,499.8 1228.1,508.9 1230.2,517.0C1231.8,523.3 1233.4,528.6 1235.0,538.0C1236.0,543.9 1237.0,557.5 1238.0,563.0C1240.6,577.3 1243.2,588.4 1245.8,592.5C1248.4,596.7 1251.1,598.6 1253.7,600.4C1257.2,602.8 1260.7,605.7 1264.2,605.7C1267.7,605.7 1271.2,603.8 1274.7,603.1C1277.3,602.6 1280.0,601.7 1282.6,601.7C1285.2,601.7 1287.9,608.5 1290.5,610.9C1294.0,614.1 1297.6,618.8 1301.1,618.8C1303.3,618.8 1305.4,616.0 1307.6,613.6C1309.4,611.6 1311.1,604.4 1312.9,604.4C1315.1,604.4 1317.3,609.9 1319.5,613.6C1321.2,616.5 1323.0,624.1 1324.7,624.1C1328.2,624.1 1331.8,624.1 1335.3,624.1C1337.9,624.1 1340.6,616.2 1343.2,616.2C1346.7,616.2 1350.2,625.4 1353.7,625.4C1355.4,625.4 1357.2,614.9 1358.9,608.3C1360.7,601.6 1362.4,588.4 1364.2,584.6C1366.8,579.0 1369.5,574.1 1372.1,574.1C1375.2,574.1 1378.2,574.6 1381.3,575.4C1383.5,576.0 1385.7,584.2 1387.9,585.9C1389.7,587.2 1391.4,588.6 1393.2,588.6C1397.6,588.6 1402.1,588.6 1406.5,588.5C1412.9,588.4 1419.4,586.1 1425.8,583.0C1430.4,580.8 1435.0,572.3 1439.6,566.4C1444.2,560.5 1448.8,554.0 1453.4,547.2C1458.0,540.4 1462.6,532.9 1467.2,525.1C1471.8,517.3 1476.3,510.0 1480.9,500.3C1483.7,494.4 1486.4,479.6 1489.2,479.6C1492.8,479.6 1496.4,482.0 1500.0,482.0C1505.6,482.0 1511.2,481.2 1516.8,480.0C1521.9,478.9 1527.0,471.4 1532.1,467.4C1535.6,464.7 1539.1,462.6 1542.6,459.5C1544.4,458.0 1546.1,456.8 1547.9,454.2C1549.7,451.6 1551.4,445.3 1553.2,438.4C1554.9,431.7 1556.7,419.9 1558.4,409.5C1559.8,401.3 1561.1,387.0 1562.5,382.8C1564.2,377.6 1565.9,375.4 1567.6,372.8C1569.7,369.7 1571.7,365.2 1573.8,365.2C1575.1,365.2 1576.3,371.2 1577.6,375.3C1578.8,379.3 1580.1,383.5 1581.3,390.3C1582.1,394.9 1583.0,402.0 1583.8,410.4C1584.7,419.1 1585.5,428.1 1586.4,445.4C1586.9,456.1 1587.5,486.4 1588.0,500.0C1589.0,526.3 1590.1,552.7 1591.1,560.0C1592.8,571.7 1594.4,573.1 1596.1,580.2C1598.1,588.9 1600.2,599.7 1602.2,608.0C1604.2,616.2 1606.2,626.5 1608.2,630.4C1610.2,634.3 1612.2,638.4 1614.2,638.4C1616.1,638.4 1618.1,636.3 1620.0,635.0C1623.1,632.9 1626.2,628.8 1629.3,627.2C1631.2,626.2 1633.1,625.2 1635.0,625.0C1637.2,624.7 1639.5,624.7 1641.7,624.5C1643.1,624.4 1644.6,624.2 1646.0,624.0"/>
<path stroke="#ff8000" d="M646.0,687.5C698.3,687.5 750.7,687.5 803.0,687.5C805.7,687.5 808.4,672.1 811.1,661.0C812.7,654.3 814.4,639.1 816.0,635.0C817.4,631.5 818.8,628.0 820.2,628.0C821.5,628.0 822.9,630.1 824.2,631.7C825.7,633.5 827.2,639.0 828.7,639.0C829.8,639.0 830.9,633.4 832.0,628.0C833.0,623.1 834.0,606.5 835.0,600.0C836.1,592.9 837.2,592.0 838.3,583.8C839.4,575.9 840.4,554.4 841.5,535.0C842.3,519.9 843.2,499.9 844.0,480.0C844.8,461.7 845.5,436.1 846.3,420.0C847.6,393.4 848.8,376.8 850.1,355.3C851.3,334.4 852.6,309.8 853.8,292.7C854.9,277.9 855.9,265.6 857.0,255.0C858.0,244.7 859.1,237.8 860.1,228.2C860.9,220.4 861.8,211.0 862.6,203.1C863.4,195.2 864.3,184.2 865.1,180.5C866.4,174.9 867.6,170.0 868.9,170.0C869.7,170.0 870.6,176.0 871.4,180.5C872.3,185.2 873.1,189.8 874.0,200.0C874.7,207.9 875.3,234.4 876.0,250.0C876.8,269.5 877.7,283.8 878.5,305.0C879.3,326.2 880.2,335.8 881.0,380.0C881.1,387.1 881.3,415.6 881.4,420.0C883.1,475.1 884.7,477.7 886.4,495.2C888.5,517.3 890.6,531.8 892.7,545.3C894.5,556.6 896.2,565.8 898.0,574.0C900.7,586.4 903.3,606.0 906.0,606.0C908.3,606.0 910.7,598.6 913.0,590.0C914.7,583.9 916.3,565.1 918.0,550.0C918.7,544.0 919.3,538.0 920.0,530.0C920.7,522.0 921.3,509.2 922.0,500.0C923.3,481.6 924.7,466.7 926.0,450.0C927.3,433.3 928.7,413.0 930.0,400.0C931.3,387.0 932.7,373.9 934.0,368.0C934.8,364.3 935.7,360.0 936.5,360.0C938.0,360.0 939.5,363.9 941.0,368.0C942.7,372.6 944.3,387.0 946.0,400.0C947.7,413.0 949.3,434.5 951.0,450.0C952.3,462.4 953.7,475.9 955.0,485.0C955.9,491.1 956.8,498.3 957.7,500.4C958.8,502.9 959.9,502.4 961.0,505.0C962.3,508.1 963.7,531.8 965.0,540.3C967.1,553.6 969.2,570.4 971.3,570.4C973.4,570.4 975.4,530.7 977.5,507.7C979.2,488.8 980.9,465.1 982.6,445.1C983.4,435.3 984.3,416.6 985.1,416.6C986.3,416.6 987.6,431.7 988.8,440.0C990.1,448.6 991.3,467.6 992.6,467.6C993.4,467.6 994.3,466.5 995.1,465.5C995.9,464.5 996.8,460.8 997.6,460.1C999.3,458.6 1000.9,459.1 1002.6,457.6C1003.9,456.4 1005.1,442.6 1006.4,442.6C1007.6,442.6 1008.9,468.0 1010.1,482.7C1011.4,497.8 1012.6,518.3 1013.9,532.8C1015.1,546.9 1016.4,559.7 1017.6,570.4C1018.3,576.8 1019.1,587.5 1019.8,587.5C1020.5,587.5 1021.1,587.2 1021.8,586.7C1023.3,585.7 1024.9,557.9 1026.4,545.3C1028.1,531.6 1029.7,507.7 1031.4,507.7C1032.7,507.7 1033.9,540.3 1035.2,540.3C1036.9,540.3 1038.5,519.8 1040.2,507.7C1041.0,501.6 1041.9,487.7 1042.7,487.7C1044.0,487.7 1045.2,522.0 1046.5,532.8C1048.2,547.0 1049.8,562.6 1051.5,565.4C1054.3,570.2 1057.2,573.0 1060.0,573.0C1062.1,573.0 1064.2,568.5 1066.3,565.3C1068.0,562.7 1069.6,555.3 1071.3,555.3C1072.6,555.3 1073.8,562.4 1075.1,565.3C1076.3,568.1 1077.6,572.9 1078.8,572.9C1080.5,572.9 1082.1,557.8 1083.8,542.8C1085.1,531.4 1086.3,495.8 1087.6,480.1C1088.9,464.4 1090.1,442.5 1091.4,442.5C1093.1,442.5 1094.7,457.6 1096.4,457.6C1098.1,457.6 1099.7,442.5 1101.4,442.5C1102.6,442.5 1103.9,459.5 1105.1,467.6C1106.8,478.8 1108.5,496.1 1110.2,500.2C1111.9,504.2 1113.5,507.7 1115.2,507.7C1117.7,507.7 1120.2,501.2 1122.7,497.7C1124.4,495.3 1126.0,490.2 1127.7,490.2C1129.8,490.2 1131.9,493.6 1134.0,495.2C1135.7,496.5 1137.3,498.9 1139.0,498.9C1141.1,498.9 1143.1,493.0 1145.2,488.9C1146.8,485.7 1148.4,481.0 1150.0,477.0C1152.5,470.7 1155.0,466.0 1157.5,457.8C1159.9,450.0 1162.2,425.2 1164.6,425.2C1166.0,425.2 1167.4,438.8 1168.8,445.3C1170.5,453.0 1172.1,460.4 1173.8,467.8C1175.9,477.1 1178.0,484.7 1180.1,495.4C1181.4,501.9 1182.6,518.0 1183.9,518.0C1185.1,518.0 1186.4,503.5 1187.6,495.4C1188.4,489.9 1189.3,477.8 1190.1,477.8C1191.4,477.8 1192.6,494.7 1193.9,500.4C1195.6,507.9 1197.2,518.0 1198.9,518.0C1201.0,518.0 1203.1,514.0 1205.2,510.4C1207.7,506.2 1210.2,492.2 1212.7,487.9C1214.4,485.0 1216.0,481.6 1217.7,481.6C1219.8,481.6 1221.9,488.0 1224.0,492.9C1226.1,497.8 1228.1,506.0 1230.2,514.0C1231.8,520.2 1233.4,525.6 1235.0,535.0C1236.0,540.9 1237.0,554.4 1238.0,560.0C1240.6,574.6 1243.2,586.4 1245.8,590.5C1248.4,594.7 1251.1,596.6 1253.7,598.4C1257.2,600.8 1260.7,603.7 1264.2,603.7C1267.7,603.7 1271.2,601.8 1274.7,601.1C1277.3,600.6 1280.0,599.7 1282.6,599.7C1285.2,599.7 1287.9,606.5 1290.5,608.9C1294.0,612.1 1297.6,616.8 1301.1,616.8C1303.3,616.8 1305.4,614.0 1307.6,611.6C1309.4,609.6 1311.1,602.4 1312.9,602.4C1315.1,602.4 1317.3,607.9 1319.5,611.6C1321.2,614.5 1323.0,622.1 1324.7,622.1C1328.2,622.1 1331.8,622.1 1335.3,622.1C1337.9,622.1 1340.6,614.2 1343.2,614.2C1346.7,614.2 1350.2,623.4 1353.7,623.4C1355.4,623.4 1357.2,612.9 1358.9,606.3C1360.7,599.6 1362.4,586.4 1364.2,582.6C1366.8,577.0 1369.5,572.1 1372.1,572.1C1375.2,572.1 1378.2,572.6 1381.3,573.4C1383.5,574.0 1385.7,582.2 1387.9,583.9C1389.7,585.2 1391.4,586.4 1393.2,586.6C1395.8,586.9 1398.4,587.1 1401.0,587.1C1404.7,587.1 1408.3,584.7 1412.0,583.0C1416.6,580.9 1421.2,578.9 1425.8,574.7C1429.5,571.4 1433.1,560.0 1436.8,555.4C1440.5,550.7 1444.2,548.8 1447.9,544.4C1451.6,540.0 1455.2,533.4 1458.9,527.9C1462.6,522.4 1466.2,518.1 1469.9,511.3C1472.7,506.2 1475.4,499.5 1478.2,492.0C1479.5,488.5 1480.8,484.4 1482.1,480.0C1483.9,474.0 1485.6,460.5 1487.4,459.5C1488.7,458.7 1490.0,458.2 1491.3,458.2C1493.5,458.2 1495.7,465.4 1497.9,467.4C1500.5,469.8 1503.2,472.6 1505.8,472.6C1509.3,472.6 1512.8,472.6 1516.3,472.6C1519.8,472.6 1523.3,464.5 1526.8,459.5C1529.4,455.7 1532.1,447.7 1534.7,446.3C1537.3,444.9 1540.0,445.3 1542.6,443.7C1544.4,442.7 1546.1,438.3 1547.9,433.2C1549.4,428.8 1551.0,416.2 1552.5,410.4C1554.2,404.1 1555.8,401.0 1557.5,395.3C1559.2,389.6 1560.8,380.6 1562.5,375.3C1563.8,371.3 1565.0,370.5 1566.3,365.2C1567.6,359.9 1568.8,327.6 1570.1,327.6C1571.3,327.6 1572.6,342.4 1573.8,345.2C1574.9,347.6 1575.9,347.2 1577.0,350.0C1578.0,352.7 1579.1,372.1 1580.1,382.8C1581.3,395.6 1582.6,404.0 1583.8,420.4C1584.7,432.4 1585.6,455.4 1586.5,470.0C1587.3,483.0 1588.1,496.7 1588.9,505.0C1589.6,512.2 1590.3,518.0 1591.0,522.0C1591.8,526.8 1592.7,530.1 1593.5,533.0C1594.3,535.9 1595.2,536.5 1596.0,540.0C1596.8,543.5 1597.7,553.0 1598.5,560.0C1599.3,567.0 1600.2,575.3 1601.0,582.0C1602.0,590.0 1603.0,597.4 1604.0,604.0C1605.0,610.6 1606.0,616.2 1607.0,622.0C1608.1,628.2 1609.1,640.0 1610.2,640.0C1611.2,640.0 1612.2,620.4 1613.2,620.4C1614.2,620.4 1615.2,642.4 1616.2,642.4C1617.5,642.4 1618.7,636.8 1620.0,632.0C1621.0,628.2 1622.0,614.0 1623.0,614.0C1624.0,614.0 1625.0,626.0 1626.0,626.0C1627.0,626.0 1628.0,606.0 1629.0,606.0C1630.0,606.0 1631.0,620.0 1632.0,620.0C1633.0,620.0 1634.0,605.0 1635.0,605.0C1636.0,605.0 1637.0,622.0 1638.0,622.0C1639.2,622.0 1640.5,607.0 1641.7,607.0C1643.1,607.0 1644.6,607.3 1646.0,614.0"/>
<path stroke="#800080" d="M646.0,689.5C700.0,689.5 753.9,689.5 807.9,689.5C810.1,689.5 812.2,673.8 814.4,665.9C816.0,660.0 817.7,649.8 819.3,648.0C820.0,647.3 820.6,646.7 821.3,646.6C822.3,646.5 823.2,646.4 824.2,646.4C825.4,646.4 826.5,649.8 827.7,649.8C829.1,649.8 830.5,639.0 831.9,626.4C832.4,621.6 833.0,609.6 833.5,600.0C834.2,588.0 834.8,573.2 835.5,560.0C836.6,538.2 837.7,521.6 838.8,495.2C839.6,475.2 840.5,446.4 841.3,420.0C841.7,407.3 842.1,393.1 842.5,380.4C843.3,354.0 844.2,328.9 845.0,305.2C845.9,280.5 846.7,252.2 847.6,235.0C848.3,221.8 848.9,215.5 849.6,203.1C850.2,192.5 850.7,175.7 851.3,165.4C852.1,150.3 853.0,140.3 853.8,127.8C854.6,115.3 855.5,97.4 856.3,90.2C857.2,82.4 858.1,78.0 859.0,74.0C860.1,69.1 861.2,64.7 862.3,62.5C863.5,60.1 864.7,57.6 865.9,57.6C867.1,57.6 868.3,59.9 869.5,62.5C870.2,64.0 870.9,67.3 871.6,72.0C872.4,77.1 873.1,90.1 873.9,102.7C874.5,112.6 875.1,124.8 875.7,140.4C876.2,153.4 876.7,166.2 877.2,190.5C877.4,200.2 877.6,225.6 877.8,235.0C878.6,271.1 879.3,284.4 880.1,305.2C881.1,333.3 882.2,350.3 883.2,380.4C883.6,393.0 884.1,414.9 884.5,425.0C886.0,459.2 887.4,479.3 888.9,495.2C891.0,517.9 893.1,532.3 895.2,545.3C896.8,555.2 898.4,563.3 900.0,570.0C902.3,579.7 904.7,594.0 907.0,594.0C909.3,594.0 911.7,584.0 914.0,574.0C915.8,566.1 917.7,547.3 919.5,530.0C921.0,516.2 922.4,498.5 923.9,480.4C925.1,465.2 926.4,446.8 927.6,430.3C928.9,413.4 930.1,389.5 931.4,380.1C933.1,367.8 934.7,355.1 936.4,355.1C938.5,355.1 940.6,362.5 942.7,370.1C944.4,376.1 946.0,391.4 947.7,405.2C949.4,419.0 951.0,439.1 952.7,455.3C953.9,467.3 955.2,488.1 956.4,490.4C958.1,493.6 959.8,492.5 961.5,495.4C962.3,496.8 963.2,500.7 964.0,505.4C964.8,510.1 965.7,524.4 966.5,530.0C968.0,540.1 969.5,552.0 971.0,552.0C972.3,552.0 973.7,533.5 975.0,520.3C976.3,507.7 977.5,490.6 978.8,470.1C979.6,456.6 980.5,438.0 981.3,420.0C982.1,402.0 983.0,361.5 983.8,361.5C985.1,361.5 986.3,376.4 987.6,387.0C988.6,395.1 989.5,411.3 990.5,418.0C991.2,422.8 991.9,429.0 992.6,429.0C993.4,429.0 994.2,426.5 995.0,424.0C996.7,418.7 998.4,391.3 1000.1,380.3C1001.4,372.1 1002.6,370.7 1003.9,360.2C1004.9,351.9 1005.9,307.6 1006.9,307.6C1008.0,307.6 1009.0,336.9 1010.1,355.2C1010.9,369.5 1011.8,382.6 1012.6,405.3C1013.0,417.1 1013.5,445.7 1013.9,455.4C1014.4,467.3 1015.0,470.9 1015.5,480.0C1016.2,491.9 1016.9,512.6 1017.6,520.3C1018.9,534.2 1020.1,547.8 1021.4,547.8C1023.1,547.8 1024.7,532.8 1026.4,520.3C1027.7,510.8 1028.9,477.6 1030.2,477.6C1031.9,477.6 1033.5,500.2 1035.2,500.2C1036.9,500.2 1038.5,482.4 1040.2,470.1C1041.0,464.0 1041.9,447.6 1042.7,447.6C1044.0,447.6 1045.2,481.0 1046.5,495.2C1047.7,509.0 1049.0,528.5 1050.2,532.8C1051.9,538.6 1053.5,541.0 1055.2,542.8C1057.6,545.4 1060.1,547.8 1062.5,547.8C1064.2,547.8 1065.8,536.5 1067.5,530.3C1069.2,524.0 1070.9,510.2 1072.6,510.2C1073.8,510.2 1075.1,522.0 1076.3,525.2C1077.4,528.0 1078.5,531.5 1079.6,531.5C1080.6,531.5 1081.6,509.9 1082.6,492.7C1083.4,478.3 1084.3,451.8 1085.1,430.0C1085.8,412.5 1086.4,394.2 1087.1,375.3C1087.7,359.2 1088.2,334.0 1088.8,325.2C1089.7,311.7 1090.5,298.9 1091.4,298.9C1092.6,298.9 1093.9,312.8 1095.1,320.2C1095.8,324.2 1096.4,332.7 1097.1,332.7C1097.9,332.7 1098.8,319.5 1099.6,315.2C1100.4,310.9 1101.3,305.1 1102.1,305.1C1103.1,305.1 1104.1,315.8 1105.1,325.2C1105.9,333.0 1106.8,351.0 1107.6,362.8C1108.9,380.7 1110.1,402.5 1111.4,412.9C1112.7,423.3 1113.9,434.0 1115.2,435.5C1116.4,437.0 1117.7,438.0 1118.9,438.0C1121.0,438.0 1123.1,425.7 1125.2,420.4C1126.4,417.3 1127.7,411.7 1128.9,411.7C1130.6,411.7 1132.3,421.2 1134.0,425.4C1135.7,429.5 1137.3,436.7 1139.0,436.7C1141.1,436.7 1143.1,432.5 1145.2,430.5C1146.8,429.0 1148.4,428.2 1150.0,426.0C1151.7,423.7 1153.3,417.8 1155.0,412.7C1156.7,407.6 1158.3,402.1 1160.0,395.1C1161.4,389.0 1162.9,372.6 1164.3,372.6C1165.8,372.6 1167.3,382.7 1168.8,390.1C1170.1,396.3 1171.3,406.3 1172.6,415.2C1174.3,426.9 1175.9,442.5 1177.6,452.8C1179.3,463.1 1180.9,479.1 1182.6,479.1C1184.3,479.1 1185.9,462.2 1187.6,452.8C1188.4,448.1 1189.3,437.7 1190.1,437.7C1191.4,437.7 1192.6,455.2 1193.9,460.3C1195.6,467.0 1197.2,475.3 1198.9,475.3C1201.0,475.3 1203.1,469.8 1205.2,465.3C1207.7,460.0 1210.2,447.3 1212.7,440.3C1214.8,434.5 1216.8,425.2 1218.9,425.2C1220.6,425.2 1222.3,432.0 1224.0,437.7C1226.1,444.7 1228.1,460.2 1230.2,472.8C1231.9,483.2 1233.6,499.6 1235.3,506.3C1237.9,516.6 1240.6,522.0 1243.2,527.4C1245.8,532.8 1248.5,540.5 1251.1,540.5C1253.3,540.5 1255.4,540.5 1257.6,540.5C1259.8,540.5 1262.0,551.1 1264.2,552.4C1266.8,553.9 1269.5,554.1 1272.1,555.0C1275.6,556.2 1279.1,557.0 1282.6,558.9C1285.2,560.4 1287.9,564.2 1290.5,566.8C1293.6,569.9 1296.6,576.1 1299.7,576.1C1301.9,576.1 1304.1,575.0 1306.3,573.4C1308.5,571.8 1310.7,555.0 1312.9,555.0C1314.7,555.0 1316.4,562.8 1318.2,566.8C1319.9,570.7 1321.7,578.7 1323.4,578.7C1326.9,578.7 1330.4,570.8 1333.9,570.8C1337.0,570.8 1340.1,572.2 1343.2,573.4C1345.8,574.5 1348.5,578.7 1351.1,578.7C1352.8,578.7 1354.6,574.1 1356.3,569.5C1358.1,564.8 1359.8,549.3 1361.6,540.5C1363.3,531.9 1365.1,519.7 1366.8,516.8C1369.0,513.1 1371.2,510.3 1373.4,510.3C1375.6,510.3 1377.8,512.3 1380.0,514.2C1381.8,515.7 1383.5,518.9 1385.3,522.1C1387.0,525.2 1388.8,533.2 1390.5,533.9C1394.0,535.4 1397.5,536.1 1401.0,536.1C1404.7,536.1 1408.3,531.1 1412.0,527.9C1414.8,525.5 1417.5,523.3 1420.3,519.6C1423.1,515.9 1425.8,509.1 1428.6,503.1C1431.3,497.2 1434.1,486.6 1436.8,483.8C1439.6,480.9 1442.3,480.9 1445.1,478.3C1447.8,475.7 1450.5,469.2 1453.2,464.7C1455.8,460.3 1458.5,457.0 1461.1,451.6C1463.7,446.3 1466.3,437.9 1468.9,430.5C1471.5,423.0 1474.2,418.8 1476.8,406.8C1478.1,400.7 1479.5,387.1 1480.8,375.3C1482.1,363.8 1483.4,342.3 1484.7,335.8C1486.5,326.9 1488.2,318.7 1490.0,318.7C1491.8,318.7 1493.5,322.4 1495.3,325.3C1497.0,328.2 1498.8,335.2 1500.5,338.4C1502.3,341.7 1504.0,344.2 1505.8,346.3C1507.6,348.4 1509.3,351.6 1511.1,351.6C1513.7,351.6 1516.3,346.3 1518.9,343.7C1520.7,341.9 1522.4,341.6 1524.2,338.4C1525.5,336.0 1526.9,317.5 1528.2,309.5C1529.9,299.1 1531.7,283.2 1533.4,283.2C1535.2,283.2 1536.9,283.8 1538.7,284.5C1540.9,285.4 1543.1,292.4 1545.3,292.4C1546.6,292.4 1547.9,283.2 1549.2,283.2C1550.5,283.2 1551.9,291.4 1553.2,298.9C1554.1,303.8 1554.9,318.0 1555.8,322.6C1556.7,327.6 1557.7,333.0 1558.6,333.0C1559.7,333.0 1560.9,290.0 1562.0,290.0C1563.0,290.0 1564.0,295.7 1565.0,300.1C1566.3,305.7 1567.5,311.2 1568.8,325.1C1569.2,329.9 1569.7,350.2 1570.1,352.7C1570.9,357.5 1571.8,360.2 1572.6,360.2C1573.4,360.2 1574.3,325.1 1575.1,325.1C1575.9,325.1 1576.8,332.8 1577.6,345.2C1577.9,349.7 1578.2,368.6 1578.5,380.0C1578.9,395.2 1579.3,407.1 1579.7,425.0C1580.1,441.5 1580.4,486.0 1580.8,486.0C1581.9,486.0 1583.1,400.0 1584.2,400.0C1584.9,400.0 1585.7,425.3 1586.4,447.6C1586.8,458.8 1587.1,497.2 1587.5,497.2C1588.3,497.2 1589.0,491.4 1589.8,488.2C1590.9,483.4 1592.1,472.4 1593.2,472.4C1594.3,472.4 1595.5,483.4 1596.6,492.7C1597.3,498.7 1598.1,519.8 1598.8,519.8C1599.9,519.8 1601.1,482.9 1602.2,470.2C1603.0,461.6 1603.7,448.8 1604.5,448.8C1605.6,448.8 1606.7,456.0 1607.8,463.4C1608.6,468.6 1609.3,484.1 1610.1,492.7C1611.2,505.5 1612.4,515.1 1613.5,526.6C1614.2,534.0 1615.0,540.6 1615.7,549.1C1616.5,558.0 1617.2,564.0 1618.0,580.0C1618.5,590.4 1619.0,627.1 1619.5,640.0C1619.8,646.9 1620.0,656.0 1620.3,656.0C1620.6,656.0 1620.9,620.2 1621.2,600.0C1621.6,570.9 1622.1,504.5 1622.5,504.0C1623.3,503.2 1624.0,502.9 1624.8,502.9C1625.5,502.9 1626.3,521.7 1627.0,526.6C1627.8,531.8 1628.5,537.8 1629.3,537.8C1630.0,537.8 1630.8,492.7 1631.5,488.2C1632.6,481.3 1633.8,477.0 1634.9,477.0C1635.7,477.0 1636.4,486.4 1637.2,492.7C1637.9,498.7 1638.7,507.3 1639.4,515.3C1640.2,523.7 1640.9,534.7 1641.7,542.3C1642.1,546.6 1642.6,552.0 1643.0,553.6C1644.0,557.3 1645.0,560.0 1646.0,560.0"/>
</g>
<g stroke="#000" stroke-width="3.3" fill="none" stroke-linejoin="round">
<path d="M82,687.2 L82,4.9 L1644.8,4.9 L1644.8,687.2"/>
</g>
<text x="81.8" y="726" font-size="32.5" text-anchor="middle">4000</text>
<text x="261.1" y="726" font-size="32.5" text-anchor="middle">3500</text>
<text x="440.4" y="726" font-size="32.5" text-anchor="middle">3000</text>
<text x="647.8" y="726" font-size="32.5" text-anchor="middle">2000</text>
<text x="959.0" y="726" font-size="32.5" text-anchor="middle">1500</text>
<text x="1270.2" y="726" font-size="32.5" text-anchor="middle">1000</text>
<text x="1581.4" y="726" font-size="32.5" text-anchor="middle">500</text>
<text x="713" y="787" font-size="35.5">Wavenumber (cm<tspan font-size="19.5" dx="2.5" dy="-17">-1</tspan><tspan dx="2" dy="17">)</tspan></text>
<text transform="translate(28.2,456.5) rotate(-90)" font-size="35.5">Absorbance (%)</text>
<line x1="280.5" y1="91.4" x2="360" y2="91.4" stroke="#000000" stroke-width="4.8" stroke-linecap="round"/>
<text y="103.4" font-size="33"><tspan x="369.5">PN</tspan><tspan x="416" y="116.1" font-size="22">100</tspan><tspan x="449.5" y="103.4">T</tspan><tspan x="472" y="116.1" font-size="22">5</tspan><tspan x="485" y="103.4">H</tspan><tspan x="511" y="116.1" font-size="22">5</tspan></text>
<line x1="280.5" y1="146.4" x2="360" y2="146.4" stroke="#ff0000" stroke-width="4.8" stroke-linecap="round"/>
<text y="158.4" font-size="33"><tspan x="369.5">PN</tspan><tspan x="416" y="171.1" font-size="22">100</tspan><tspan x="449.5" y="158.4">T</tspan><tspan x="472" y="171.1" font-size="22">5</tspan><tspan x="485" y="158.4">H</tspan><tspan x="511" y="171.1" font-size="22">5</tspan><tspan x="524" y="158.4">V</tspan><tspan x="547" y="171.1" font-size="22">5</tspan></text>
<line x1="280.5" y1="201.3" x2="360" y2="201.3" stroke="#0000ff" stroke-width="4.8" stroke-linecap="round"/>
<text y="213.3" font-size="33"><tspan x="369.5">PN</tspan><tspan x="416" y="226.0" font-size="22">100</tspan><tspan x="449.5" y="213.3">T</tspan><tspan x="472" y="226.0" font-size="22">5</tspan><tspan x="485" y="213.3">H</tspan><tspan x="511" y="226.0" font-size="22">5</tspan><tspan x="524" y="213.3">V</tspan><tspan x="547" y="226.0" font-size="22">10</tspan></text>
<line x1="280.5" y1="256.2" x2="360" y2="256.2" stroke="#ffff00" stroke-width="4.8" stroke-linecap="round"/>
<text y="268.2" font-size="33"><tspan x="369.5">PN</tspan><tspan x="416" y="280.9" font-size="22">100</tspan><tspan x="449.5" y="268.2">T</tspan><tspan x="472" y="280.9" font-size="22">5</tspan><tspan x="485" y="268.2">H</tspan><tspan x="511" y="280.9" font-size="22">5</tspan><tspan x="524" y="268.2">V</tspan><tspan x="547" y="280.9" font-size="22">20</tspan></text>
<line x1="280.5" y1="311.2" x2="360" y2="311.2" stroke="#008000" stroke-width="4.8" stroke-linecap="round"/>
<text y="323.2" font-size="33"><tspan x="369.5">PN</tspan><tspan x="416" y="335.9" font-size="22">100</tspan><tspan x="449.5" y="323.2">T</tspan><tspan x="472" y="335.9" font-size="22">5</tspan><tspan x="485" y="323.2">H</tspan><tspan x="511" y="335.9" font-size="22">5</tspan><tspan x="524" y="323.2">V</tspan><tspan x="547" y="335.9" font-size="22">30</tspan></text>
<line x1="280.5" y1="366.1" x2="360" y2="366.1" stroke="#ff8000" stroke-width="4.8" stroke-linecap="round"/>
<text y="378.1" font-size="33"><tspan x="369.5">PN</tspan><tspan x="416" y="390.8" font-size="22">100</tspan><tspan x="449.5" y="378.1">T</tspan><tspan x="472" y="390.8" font-size="22">5</tspan><tspan x="485" y="378.1">H</tspan><tspan x="511" y="390.8" font-size="22">5</tspan><tspan x="524" y="378.1">V</tspan><tspan x="547" y="390.8" font-size="22">50</tspan></text>
<line x1="280.5" y1="421.1" x2="360" y2="421.1" stroke="#800080" stroke-width="4.8" stroke-linecap="round"/>
<text y="433.1" font-size="33"><tspan x="369.5">PN</tspan><tspan x="416" y="445.8" font-size="22">100</tspan><tspan x="449.5" y="433.1">T</tspan><tspan x="472" y="445.8" font-size="22">5</tspan><tspan x="485" y="433.1">H</tspan><tspan x="511" y="445.8" font-size="22">5</tspan><tspan x="524" y="433.1">V</tspan><tspan x="547" y="445.8" font-size="22">100</tspan></text>
<text x="299.2" y="532.0" font-size="35.5">3298</text>
<text x="452.3" y="539.0" font-size="35.5">2873</text>
<text x="704.7" y="598.5" font-size="35.5">1722</text>
<text x="750.6" y="43.7" font-size="35.5">1649</text>
<text x="899.9" y="300.0" font-size="35.5">1533</text>
<text x="971.4" y="252.0" font-size="35.5">1423</text>
<text x="1007.9" y="349.5" font-size="35.5">1365</text>
<text x="997.7" y="425.0" font-size="35.5">1385</text>
<text x="1057.1" y="243.0" font-size="35.5">1286</text>
<text x="1147.1" y="286.5" font-size="35.5">1269</text>
<text x="1095.0" y="357.5" font-size="35.5">1226</text>
<text x="1205.3" y="349.0" font-size="35.5">1170</text>
<text x="1262.7" y="405.0" font-size="35.5">1082</text>
<g fill="#ff0000" stroke="#ff0000">
<line x1="335.4" y1="589.0" x2="335.4" y2="557.0" stroke-width="3.8"/>
<polygon stroke="none" points="335.4,539.5 341.0,559.0 329.8,559.0"/>
<line x1="487.9" y1="596.0" x2="487.9" y2="565.7" stroke-width="3.8"/>
<polygon stroke="none" points="487.9,548.2 493.5,567.7 482.3,567.7"/>
<line x1="821.8" y1="617.7" x2="795.1" y2="600.1" stroke-width="3.8"/>
<polygon stroke="none" points="780.5,590.5 799.9,596.5 793.7,605.9"/>
<line x1="865.6" y1="56.6" x2="839.6" y2="39.9" stroke-width="3.8"/>
<polygon stroke="none" points="824.9,30.4 844.3,36.2 838.3,45.7"/>
<line x1="936.1" y1="356.5" x2="936.1" y2="326.4" stroke-width="3.8"/>
<polygon stroke="none" points="936.1,308.9 941.7,328.4 930.5,328.4"/>
<line x1="1007.3" y1="307.6" x2="1007.3" y2="278.5" stroke-width="3.8"/>
<polygon stroke="none" points="1007.3,261.0 1012.9,280.5 1001.7,280.5"/>
<line x1="1042.5" y1="447.0" x2="1042.5" y2="374.6" stroke-width="3.8"/>
<polygon stroke="none" points="1042.5,357.1 1048.1,376.6 1036.9,376.6"/>
<line x1="1031.1" y1="475.2" x2="1031.1" y2="446.4" stroke-width="3.8"/>
<polygon stroke="none" points="1031.1,428.9 1036.7,448.4 1025.5,448.4"/>
<line x1="1092.2" y1="297.7" x2="1092.2" y2="269.5" stroke-width="3.8"/>
<polygon stroke="none" points="1092.2,252.0 1097.8,271.5 1086.6,271.5"/>
<line x1="1101.6" y1="305.2" x2="1126.3" y2="287.3" stroke-width="3.8"/>
<polygon stroke="none" points="1140.5,277.0 1128.0,293.0 1121.4,283.9"/>
<line x1="1129.5" y1="412.7" x2="1129.5" y2="383.9" stroke-width="3.8"/>
<polygon stroke="none" points="1129.5,366.4 1135.1,385.9 1123.9,385.9"/>
<line x1="1164.6" y1="370.0" x2="1187.7" y2="352.2" stroke-width="3.8"/>
<polygon stroke="none" points="1201.5,341.5 1189.5,357.9 1182.6,349.0"/>
<line x1="1218.5" y1="424.2" x2="1242.3" y2="407.2" stroke-width="3.8"/>
<polygon stroke="none" points="1256.6,397.1 1244.0,413.0 1237.5,403.8"/>
</g>
</svg></body></html>
